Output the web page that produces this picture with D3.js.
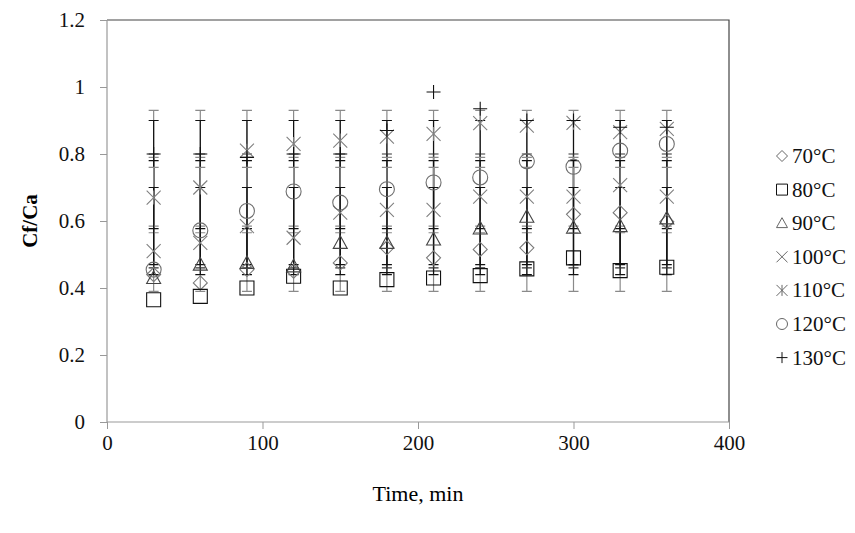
<!DOCTYPE html>
<html>
<head>
<meta charset="utf-8">
<script src="https://cdn.jsdelivr.net/npm/d3@7"></script>
<style>
  html, body { margin: 0; padding: 0; background: #fff; }
  svg { display: block; font-family: "Liberation Serif", "Times New Roman", serif; }
</style>
</head>
<body>
<svg id="chart" width="855" height="533"></svg>
<script>
// Sampling times (min)
const times = [30, 60, 90, 120, 150, 180, 210, 240, 270, 300, 330, 360];

// Cf/Ca ratio for each temperature
const s70  = [0.44, 0.415, 0.455, 0.45, 0.475, 0.52, 0.49, 0.515, 0.52, 0.62, 0.625, 0.598];
const s80  = [0.365, 0.375, 0.40, 0.435, 0.40, 0.425, 0.43, 0.437, 0.457, 0.49, 0.452, 0.462];
const s90  = [0.43, 0.47, 0.475, 0.465, 0.535, 0.535, 0.545, 0.578, 0.613, 0.58, 0.585, 0.608];
const s100 = [0.51, 0.535, 0.585, 0.55, 0.625, 0.633, 0.633, 0.673, 0.673, 0.673, 0.707, 0.673];
const s110 = [0.67, 0.70, 0.81, 0.83, 0.84, 0.852, 0.86, 0.892, 0.885, 0.893, 0.865, 0.875];
const s120 = [0.455, 0.572, 0.63, 0.688, 0.655, 0.695, 0.715, 0.73, 0.778, 0.762, 0.81, 0.83];
const s130 = [0.80, 0.80, 0.79, 0.80, 0.80, 0.87, 0.985, 0.935, 0.90, 0.90, 0.88, 0.88];

// Error bar extents (lower, upper) per temperature
const errLow  = [0.39, 0.44, 0.46, 0.565, 0.577, 0.585, 0.47];
const errHigh = [0.93, 0.90, 0.80, 0.79, 0.78, 0.76, 0.70];

const seriesNames = ["70\u00B0C", "80\u00B0C", "90\u00B0C", "100\u00B0C", "110\u00B0C", "120\u00B0C", "130\u00B0C"];
const seriesValues = [s70, s80, s90, s100, s110, s120, s130];
const markerKinds = ["diamond", "square", "triangle", "cross", "star", "circle", "plus"];
const markerColors = ["#7a7a7a", "#111", "#444", "#808080", "#808080", "#6e6e6e", "#111"];
const barColors = ["#8a8a8a", "#111", "#333", "#8a8a8a", "#111", "#8a8a8a", "#111"];

const xTicks = [0, 100, 200, 300, 400];
const yTicks = [0, 0.2, 0.4, 0.6, 0.8, 1, 1.2];

const svg = d3.select("#chart");
const plotLeft = 107, plotRight = 729, plotTop = 20, plotBottom = 422;

const x = d3.scaleLinear().domain([0, 400]).range([plotLeft, plotRight]);
const y = d3.scaleLinear().domain([0, 1.2]).range([plotBottom, plotTop]);

// Marker path generator, r is half-size
function markerPath(kind, r) {
  const p = d3.path();
  switch (kind) {
    case "diamond":
      p.moveTo(0, -r); p.lineTo(r, 0); p.lineTo(0, r); p.lineTo(-r, 0); p.closePath(); break;
    case "square":
      p.rect(-r, -r, 2 * r, 2 * r); break;
    case "triangle":
      p.moveTo(0, -r); p.lineTo(r, r * 0.8); p.lineTo(-r, r * 0.8); p.closePath(); break;
    case "cross":
      p.moveTo(-r, -r); p.lineTo(r, r); p.moveTo(r, -r); p.lineTo(-r, r); break;
    case "star":
      p.moveTo(-r, -r); p.lineTo(r, r); p.moveTo(r, -r); p.lineTo(-r, r);
      p.moveTo(0, -r); p.lineTo(0, r); break;
    case "circle":
      p.arc(0, 0, r, 0, 2 * Math.PI); break;
    case "plus":
      p.moveTo(-r, 0); p.lineTo(r, 0); p.moveTo(0, -r); p.lineTo(0, r); break;
  }
  return p.toString();
}

// Plot frame: top and right edges
svg.append("path")
  .attr("d", `M${plotLeft},${plotTop}H${plotRight}V${plotBottom}`)
  .attr("fill", "none").attr("stroke", "#444").attr("stroke-width", 1.2);

// Axes
const yAxis = d3.axisLeft(y).tickValues(yTicks).tickSize(7).tickPadding(15)
  .tickFormat(d => d3.format("~g")(d));
const gy = svg.append("g").attr("transform", `translate(${plotLeft},0)`).call(yAxis);
const xAxis = d3.axisBottom(x).tickValues(xTicks).tickSize(7).tickPadding(6);
const gx = svg.append("g").attr("transform", `translate(0,${plotBottom})`).call(xAxis);
[gx, gy].forEach(g => {
  g.select(".domain").attr("stroke", "#999").attr("stroke-width", 1.2);
  g.selectAll(".tick line").attr("stroke", "#999");
  g.selectAll(".tick text").attr("fill", "#111")
    .style("font-family", "'Liberation Serif', serif").style("font-size", "21px");
});
gx.select(".domain").attr("d", `M${plotLeft},0H${plotRight}`);
gy.select(".domain").attr("d", `M0,${plotBottom}V${plotTop}`);

// Error bars
const capHalf = 5;
seriesValues.forEach((vals, si) => {
  const g = svg.append("g").attr("stroke", barColors[si]).attr("stroke-width", 1.2).attr("fill", "none");
  vals.forEach((v, i) => {
    const cx = x(times[i]);
    const y0 = y(errLow[si]), y1 = y(errHigh[si]);
    g.append("path").attr("d",
      `M${cx},${y0}V${y1}M${cx - capHalf},${y0}H${cx + capHalf}M${cx - capHalf},${y1}H${cx + capHalf}`);
  });
});

// Markers
seriesValues.forEach((vals, si) => {
  const g = svg.append("g");
  g.selectAll("path").data(vals).join("path")
    .attr("transform", (d, i) => `translate(${x(times[i])},${y(d)})`)
    .attr("d", markerPath(markerKinds[si], markerKinds[si] === "circle" ? 7.5 : 7))
    .attr("fill", "none")
    .attr("stroke", markerColors[si])
    .attr("stroke-width", 1.1);
});

// Axis titles
svg.append("text")
  .attr("transform", `translate(37,${(plotTop + plotBottom) / 2}) rotate(-90)`)
  .attr("text-anchor", "middle")
  .style("font-size", "21px").style("font-weight", "bold")
  .text("Cf/Ca");
svg.append("text")
  .attr("x", (plotLeft + plotRight) / 2).attr("y", 501)
  .attr("text-anchor", "middle")
  .style("font-size", "22px")
  .text("Time, min");

// Legend
const legend = svg.append("g").attr("transform", "translate(782,156)");
seriesNames.forEach((name, si) => {
  const row = legend.append("g").attr("transform", `translate(0,${si * 33.6})`);
  row.append("path")
    .attr("d", markerPath(markerKinds[si], 5.5))
    .attr("fill", "none").attr("stroke", markerColors[si] === "#111" ? "#111" : "#666").attr("stroke-width", 1);
  row.append("text")
    .attr("x", 10).attr("y", 7)
    .style("font-size", "21px").attr("fill", "#111")
    .text(name);
});
</script>
</body>
</html>
